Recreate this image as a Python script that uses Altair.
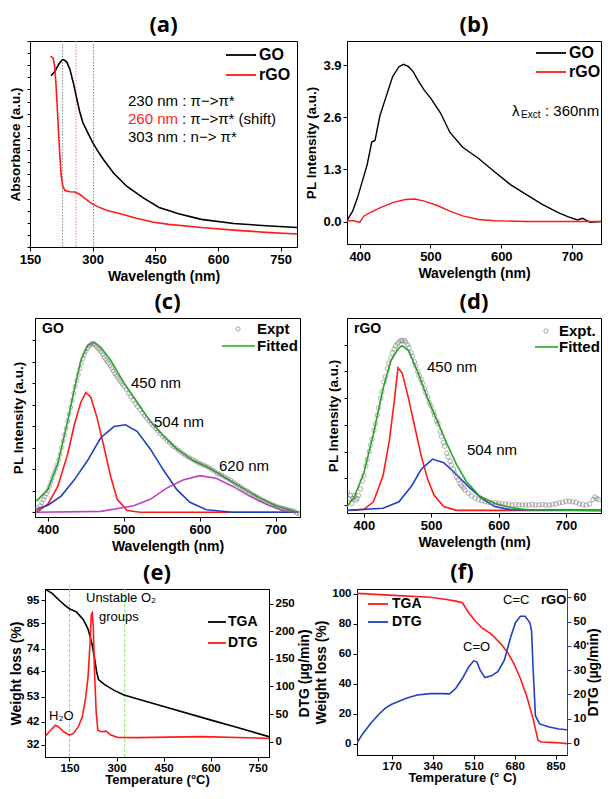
import altair as alt
import pandas as pd

FONT = "Liberation Sans"
TFONT = "Open Sans"

# ---------------- (a) UV-vis ----------------
a_go_x = [200.5, 210.6, 218.3, 226.1, 230, 237.7, 245.5, 253.3, 261, 268.8, 276.6, 288.2, 299.8, 311.5,
          327, 350.3, 381.4, 420.2, 459, 505.6, 560, 637.6, 715.2, 789]
a_go_y = [0.831, 0.855, 0.886, 0.907, 0.910, 0.899, 0.863, 0.800, 0.729, 0.658, 0.603, 0.555, 0.508, 0.468,
          0.421, 0.358, 0.295, 0.240, 0.192, 0.161, 0.134, 0.114, 0.103, 0.095]
a_rgo_x = [198.9, 205.1, 209, 212.1, 215.2, 218.3, 221.4, 224.5, 228.4, 233.9, 245.5, 257.1, 268.8, 280.4,
           296, 311.5, 334.8, 365.8, 404.7, 443.5, 482.3, 560, 637.6, 715.2, 789]
a_rgo_y = [0.926, 0.918, 0.879, 0.792, 0.681, 0.555, 0.445, 0.350, 0.295, 0.274, 0.268, 0.267, 0.256, 0.237,
           0.213, 0.196, 0.177, 0.161, 0.140, 0.121, 0.110, 0.095, 0.082, 0.071, 0.063]
a_marks = [228, 260, 302]
a_xticks = [150, 300, 450, 600, 750]

# ---------------- (b) PL ----------------
b_go_x = [382, 390, 396.8, 403.6, 410.4, 417, 421.6, 428.4, 437.4, 446.4, 455.4, 462, 469, 475.7, 482.4,
          491.4, 500.5, 514, 527.5, 545.5, 568, 590.5, 613, 635.6, 658, 680.6, 694, 707.7, 715, 725.7, 741.4]
b_go_y = [0.02, 0.26, 0.59, 1.0, 1.41, 1.98, 2.02, 2.63, 3.12, 3.61, 3.86, 3.92, 3.86, 3.73, 3.52,
          3.27, 3.07, 2.71, 2.22, 1.85, 1.57, 1.24, 0.92, 0.67, 0.43, 0.22, 0.12, 0.04, 0.08, -0.02, 0.0]
b_rgo_x = [382, 392, 400, 405.9, 414.9, 428.4, 446.4, 464.4, 477.9, 491.4, 509.5, 527.5, 545.5, 568,
           590.5, 635.6, 741.4]
b_rgo_y = [0.02, 0.02, -0.02, 0.14, 0.22, 0.34, 0.47, 0.55, 0.56, 0.51, 0.40, 0.26, 0.14, 0.05,
           0.02, 0.0, 0.0]
b_xticks = [400, 500, 600, 700]
b_yticks = [0.0, 1.3, 2.6, 3.9]

# ---------------- (c) GO deconvolution ----------------
c_red_x = [384.8, 400, 413, 426, 434.8, 443.5, 450, 456.5, 465, 474, 482.6, 491.3, 504.3, 521.7, 730.4]
c_red_y = [0, 0.19, 0.60, 1.35, 2.03, 2.56, 2.78, 2.67, 2.18, 1.50, 0.83, 0.30, 0.04, 0, 0]
c_blue_x = [384.8, 400, 417.4, 434.8, 452.2, 469.6, 487, 502.2, 517.4, 534.8, 552.2, 569.6, 587, 608.7, 643.5, 730.4]
c_blue_y = [0.075, 0.165, 0.376, 0.752, 1.2, 1.73, 1.99, 2.03, 1.88, 1.47, 0.98, 0.53, 0.23, 0.06, 0, 0]
c_mag_x = [384.8, 469.6, 513, 534.8, 556.5, 578, 600, 621.7, 643.5, 665, 687, 708.7, 730.4]
c_mag_y = [0, 0.02, 0.15, 0.30, 0.56, 0.75, 0.85, 0.79, 0.60, 0.38, 0.19, 0.04, 0]
c_fit_x = [384.8, 400, 413, 426, 434.8, 443.5, 452.2, 460.9, 469.6, 482.6, 500, 517.4, 534.8, 552.2,
           569.6, 591.3, 613, 634.8, 656.5, 678, 700, 721.7, 730.4]
c_fit_y = [0.26, 0.53, 1.13, 2.11, 2.86, 3.53, 3.87, 3.95, 3.83, 3.53, 3.01, 2.56, 2.11, 1.77,
           1.47, 1.20, 1.02, 0.79, 0.56, 0.34, 0.15, 0.04, 0]
c_exp_x = [384, 386, 388, 390, 392, 394, 396, 398, 400, 402, 404, 406, 408, 410, 412, 414, 416, 418, 420,
           422, 424, 426, 428, 430, 432, 434, 436, 438, 440, 442, 444, 446, 448, 450, 452, 454, 456, 458,
           460, 462, 464, 466, 468, 470, 472, 474, 476, 478, 480, 482, 484, 486, 488, 490, 492, 494, 496,
           498, 500, 503, 506, 509, 512, 515, 518, 521, 524, 527, 530, 533, 536, 539, 542, 545, 548, 551,
           554, 557, 560, 563, 566, 569, 572, 575, 578, 581, 584, 587, 590, 593, 596, 599, 602, 605, 608,
           611, 614, 617, 620, 623, 626, 629, 632, 635, 638, 641, 644, 647, 650, 653, 656, 659, 662, 665,
           668, 671, 674, 677, 680, 683, 686, 689, 692, 695, 698, 701, 704, 707, 710, 713, 716, 719, 722,
           725, 728, 731]
c_exp_y = [0.02, 0.1, 0.05, 0.15, 0.22, 0.3, 0.36, 0.43, 0.5, 0.6, 0.7, 0.8, 0.9, 1.0, 1.1, 1.22, 1.35,
           1.5, 1.65, 1.8, 1.95, 2.12, 2.28, 2.44, 2.6, 2.76, 2.92, 3.06, 3.2, 3.33, 3.45, 3.56, 3.66, 3.74,
           3.8, 3.86, 3.89, 3.92, 3.9, 3.88, 3.85, 3.8, 3.76, 3.72, 3.66, 3.6, 3.55, 3.5, 3.46, 3.4, 3.35,
           3.28, 3.22, 3.17, 3.12, 3.07, 3.02, 2.97, 2.92, 2.85, 2.76, 2.68, 2.6, 2.52, 2.45, 2.38, 2.3,
           2.24, 2.18, 2.12, 2.06, 2.0, 1.94, 1.88, 1.82, 1.76, 1.72, 1.66, 1.62, 1.56, 1.52, 1.48, 1.44,
           1.4, 1.36, 1.32, 1.29, 1.26, 1.23, 1.2, 1.17, 1.14, 1.12, 1.1, 1.07, 1.05, 1.02, 0.98, 0.95,
           0.9, 0.88, 0.86, 0.83, 0.8, 0.77, 0.74, 0.7, 0.66, 0.63, 0.6, 0.56, 0.52, 0.5, 0.46, 0.43, 0.4,
           0.37, 0.34, 0.31, 0.28, 0.26, 0.23, 0.2, 0.18, 0.16, 0.14, 0.12, 0.1, 0.09, 0.08, 0.06, 0.05,
           0.04, 0.02, -0.02, -0.03]

# ---------------- (d) rGO deconvolution ----------------
d_red_x = [381, 400, 414.2, 428.4, 437.9, 445, 450.7, 456.9, 466.4, 475.8, 485.3, 494.8, 504.3, 518.5, 537.4, 752]
d_red_y = [0, 0.02, 0.16, 0.64, 1.31, 2.03, 2.67, 2.57, 2.09, 1.55, 1.01, 0.58, 0.28, 0.07, 0, 0]
d_blue_x = [375, 428.4, 452.1, 471.1, 485.3, 501.9, 518.5, 537.4, 556.4, 575.4, 594.3, 618, 752]
d_blue_y = [0, 0.04, 0.16, 0.46, 0.77, 0.96, 0.89, 0.67, 0.43, 0.22, 0.07, 0.01, 0]
d_fit_x = [375, 385.8, 400, 414.2, 428.4, 440.3, 452.1, 456.9, 466.4, 480.6, 494.8, 509, 523.2, 537.4,
           551.7, 570.6, 594.3, 618, 641.7, 752]
d_fit_y = [0.07, 0.25, 0.70, 1.43, 2.27, 2.81, 3.04, 3.08, 2.99, 2.57, 2.09, 1.67, 1.25, 0.86,
           0.55, 0.28, 0.13, 0.05, 0.01, 0]
d_exp_x = [376, 378, 380, 382, 384, 386, 388, 390, 392, 395, 398, 400, 403, 405, 408, 410, 412, 415, 417,
           420, 422, 425, 427, 430, 432, 435, 437, 440, 442, 445, 447, 450, 452, 455, 457, 460, 462, 465,
           467, 470, 472, 475, 477, 480, 482, 485, 487, 490, 492, 495, 497, 500, 503, 505, 508, 510, 513,
           515, 518, 520, 523, 525, 528, 530, 533, 535, 538, 540, 543, 545, 548, 550, 555, 560, 565, 570,
           575, 580, 585, 590, 595, 600, 605, 610, 615, 620, 625, 630, 635, 640, 645, 650, 655, 660, 665,
           670, 675, 680, 685, 690, 695, 700, 705, 710, 715, 720, 725, 730, 735, 740, 743, 746, 749]
d_exp_y = [0.34, 0.22, 0.28, 0.13, 0.22, 0.28, 0.19, 0.22, 0.28, 0.40, 0.55, 0.65, 0.83, 0.95, 1.1, 1.22,
           1.33, 1.5, 1.62, 1.78, 1.92, 2.1, 2.22, 2.4, 2.5, 2.65, 2.75, 2.85, 2.95, 3.02, 3.08, 3.12, 3.15,
           3.18, 3.17, 3.18, 3.15, 3.1, 3.05, 2.95, 2.88, 2.78, 2.7, 2.6, 2.52, 2.45, 2.38, 2.28, 2.2, 2.12,
           2.02, 1.95, 1.85, 1.78, 1.68, 1.62, 1.48, 1.38, 1.27, 1.2, 1.07, 1.0, 0.92, 0.85, 0.77, 0.7, 0.62,
           0.57, 0.5, 0.46, 0.42, 0.38, 0.32, 0.27, 0.23, 0.2, 0.18, 0.16, 0.15, 0.14, 0.14, 0.13, 0.12, 0.12,
           0.11, 0.1, 0.11, 0.1, 0.1, 0.1, 0.1, 0.11, 0.1, 0.1, 0.11, 0.1, 0.1, 0.11, 0.12, 0.14, 0.15, 0.17,
           0.17, 0.16, 0.15, 0.12, 0.11, 0.1, 0.12, 0.2, 0.25, 0.22, 0.2]

# ---------------- (e) GO TGA / DTG ----------------
e_tga_x = [72, 94.9, 115.7, 136.5, 150, 172.9, 193.7, 209.3, 221.7, 230, 236.3, 242.5, 261.2, 292.4,
           323.6, 417.2, 604.3, 677, 786]
e_tga_y = [100, 98.1, 95.3, 92.7, 91.4, 89.9, 86.7, 82.5, 76.1, 69.7, 64, 60.4, 58.3, 55.7,
           53.7, 50, 42.6, 39.8, 35.5]
e_dtg_x = [72, 89.7, 105.3, 115.7, 131.3, 150, 162.5, 178, 190.5, 201, 209.3, 215.5, 219.6, 222.8, 225.9,
           230, 235.2, 240.4, 250.8, 266.4, 282, 302.8, 365.2, 573, 786]
e_dtg_y = [8.9, 20.7, 29.6, 26.6, 17.8, 11.8, 14.8, 26.6, 44.4, 76.9, 118, 177.5, 230.8, 233.7, 207,
           124, 53.3, 20.7, 17.8, 18.9, 11.8, 7.7, 7.1, 8.9, 5.9]
e_marks = [150, 326]
e_xticks = [150, 300, 450, 600, 750]
e_lticks = [32, 42, 53, 64, 74, 85, 95]
e_rticks = [0, 50, 100, 150, 200, 250]

# ---------------- (f) rGO TGA / DTG ----------------
f_tga_x = [26, 196.7, 330, 396.7, 436.7, 463.3, 490, 516.7, 543.3, 583.3, 623.3, 650, 676.7, 703.3, 730,
           756.7, 776.7, 790, 850, 896.7]
f_tga_y = [100.4, 98.9, 97.8, 96.3, 95.2, 94.1, 87.3, 81.9, 77.5, 73.1, 66.6, 61.1, 53.5, 43.7, 31.7,
           16.4, 2.2, 1.1, 0.7, 0]
f_dtg_x = [26, 50, 83.3, 116.7, 143.3, 170, 210, 236.7, 276.7, 330, 383.3, 410, 436.7, 463.3, 490, 510,
           523.3, 536.7, 556.7, 583.3, 610, 636.7, 663.3, 683.3, 703.3, 723.3, 743.3, 750, 756.7, 766,
           783.3, 823.3, 863.3, 896.7]
f_dtg_y = [0, 3.8, 8.1, 11.8, 14.3, 15.9, 17.6, 18.6, 19.7, 20.3, 20.3, 20.2, 22.6, 26.6, 31.4, 33.8,
           33.4, 30, 26.9, 27.6, 29.3, 34, 43.5, 49.5, 52.2, 52.2, 49.5, 46.2, 30, 11.2, 7.8, 6.5, 5.7, 5.4]
f_xticks = [170, 340, 510, 680, 850]
f_lticks = [0, 20, 40, 60, 80, 100]
f_rticks = [0, 10, 20, 30, 40, 50, 60]

RED = "#ff1a1a"
BLUE = "#2040c0"
MAG = "#c040c0"
GREEN = "#22aa22"
GRAY = "#707070"

ONE = pd.DataFrame({"k": [0]})


def df(xs, ys):
    return pd.DataFrame({"x": xs, "y": ys})


def txt(s, x, y, size=15, color="black", weight="normal", align="left"):
    return alt.Chart(pd.DataFrame({"t": [s]})).mark_text(
        align=align, baseline="middle", fontSize=size, fontWeight=weight, color=color, font=FONT
    ).encode(x=alt.value(x), y=alt.value(y), text="t:N")


def seg(x1, x2, y, color, width=1.8):
    return alt.Chart(ONE).mark_rule(color=color, strokeWidth=width).encode(
        x=alt.value(x1), x2=alt.value(x2), y=alt.value(y))


def dot(x, y):
    return alt.Chart(ONE).mark_point(shape="circle", filled=False, color=GRAY, size=18, strokeWidth=0.9).encode(
        x=alt.value(x), y=alt.value(y))


def curve(data, xe, ye, color, w=1.6):
    return alt.Chart(data).mark_line(color=color, strokeWidth=w, clip=True).encode(x=xe, y=ye)


def spacer(w):
    return alt.Chart(ONE).mark_point(opacity=0, size=1).encode(x=alt.value(1), y=alt.value(1)).properties(
        width=w, height=2, view=alt.ViewBackground(strokeOpacity=0))


def title(s):
    return alt.TitleParams(s, font=TFONT, fontSize=22, fontWeight="bold", anchor="middle", offset=4, color="black")


def xax(vals, name, size=13, tsize=14, lpad=2, tpad=3):
    return alt.Axis(values=vals, title=name, format="d", labelFontSize=size, titleFontSize=tsize,
                    titlePadding=tpad, labelPadding=lpad)


# ---------- panel (a)
WA, HA = 267, 206
xa = alt.X("x:Q", scale=alt.Scale(domain=[150, 789], nice=False, zero=False), axis=xax(a_xticks, "Wavelength (nm)"))
ya = alt.Y("y:Q", scale=alt.Scale(domain=[0, 1], nice=False, zero=False),
           axis=alt.Axis(values=[i / 17 for i in range(18)], labels=False, title="Absorbance (a.u.)",
                         titleFontSize=13.5, titlePadding=4, tickSize=3))
pa = alt.layer(
    alt.Chart(pd.DataFrame({"x": [a_marks[0]]})).mark_rule(color="#888888", strokeDash=[1.5, 1.5], strokeWidth=1).encode(x=xa),
    alt.Chart(pd.DataFrame({"x": [a_marks[1]]})).mark_rule(color="#ff7090", strokeDash=[1.5, 1.5], strokeWidth=1).encode(x=xa),
    alt.Chart(pd.DataFrame({"x": [a_marks[2]]})).mark_rule(color="#888888", strokeDash=[1.5, 1.5], strokeWidth=1).encode(x=xa),
    curve(df(a_go_x, a_go_y), xa, ya, "black"),
    curve(df(a_rgo_x, a_rgo_y), xa, ya, RED),
    seg(WA - 71, WA - 41, 14, "black"), txt("GO", WA - 38, 14, 16, weight="bold"),
    seg(WA - 71, WA - 41, 34, RED), txt("rGO", WA - 38, 34, 16, weight="bold"),
    txt("230 nm : π−>π*", 98, 60),
    txt("260 nm", 98, 78, color=RED), txt(": π−>π* (shift)", 152, 78),
    txt("303 nm : n−> π*", 98, 96),
).properties(width=WA, height=HA, title=title("(a)"))

# ---------- panel (b)
WB, HB = 254, 203
xb = alt.X("x:Q", scale=alt.Scale(domain=[382, 741], nice=False, zero=False), axis=xax(b_xticks, "Wavelength (nm)"))
yb = alt.Y("y:Q", scale=alt.Scale(domain=[-0.56, 4.5], nice=False, zero=False),
           axis=alt.Axis(values=b_yticks, format=".1f", title="PL Intensity (a.u.)", titleFontSize=13.5,
                         titlePadding=4, labelFontSize=13))
pb = alt.layer(
    curve(df(b_go_x, b_go_y), xb, yb, "black", 1.4),
    curve(df(b_rgo_x, b_rgo_y), xb, yb, RED, 1.4),
    seg(WB - 65, WB - 35, 12, "black"), txt("GO", WB - 32, 12, 16, weight="bold"),
    seg(WB - 65, WB - 35, 31, RED), txt("rGO", WB - 32, 31, 16, weight="bold"),
    txt("λ", WB - 89, 70, 15), txt("Exct", WB - 80, 74, 10), txt(": 360nm", WB - 56, 70, 15),
).properties(width=WB, height=HB, title=title("(b)"))

# ---------- panel (c)
WC, HC = 265, 199
xc = alt.X("x:Q", scale=alt.Scale(domain=[383, 732], nice=False, zero=False), axis=xax(b_xticks, "Wavelength (nm)"))
yc = alt.Y("y:Q", scale=alt.Scale(domain=[-0.11, 4.51], nice=False, zero=False),
           axis=alt.Axis(values=[i * 0.5 for i in range(9)], labels=False, title="PL Intensity (a.u.)",
                         titleFontSize=13.5, titlePadding=6, tickSize=3))
pc = alt.layer(
    curve(df(c_red_x, c_red_y), xc, yc, RED),
    curve(df(c_blue_x, c_blue_y), xc, yc, BLUE),
    curve(df(c_mag_x, c_mag_y), xc, yc, MAG),
    curve(df(c_fit_x, c_fit_y), xc, yc, GREEN),
    alt.Chart(df(c_exp_x, c_exp_y)).mark_point(shape="circle", filled=False, color=GRAY, size=16,
                                               strokeWidth=0.8, clip=True).encode(x=xc, y=yc),
    txt("GO", 7, 11, 14, weight="bold"),
    txt("450 nm", 96, 65), txt("504 nm", 119, 104), txt("620 nm", 184, 148),
    dot(WC - 62, 11), txt("Expt", WC - 43, 11, 15, weight="bold"),
    seg(WC - 78, WC - 45, 28, GREEN, 1.6), txt("Fitted", WC - 43, 28, 15, weight="bold"),
).properties(width=WC, height=HC, title=title("(c)"))

# ---------- panel (d)
WD, HD = 254, 195
xd = alt.X("x:Q", scale=alt.Scale(domain=[375, 752], nice=False, zero=False), axis=xax(b_xticks, "Wavelength (nm)"))
yd = alt.Y("y:Q", scale=alt.Scale(domain=[-0.05, 3.6], nice=False, zero=False),
           axis=alt.Axis(values=[0.1 + i * 0.5 for i in range(7)], labels=False, title="PL Intensity (a.u.)",
                         titleFontSize=13.5, titlePadding=3, tickSize=3))
pd_ = alt.layer(
    curve(df(d_red_x, d_red_y), xd, yd, RED),
    curve(df(d_blue_x, d_blue_y), xd, yd, BLUE),
    curve(df(d_fit_x, d_fit_y), xd, yd, GREEN),
    alt.Chart(df(d_exp_x, d_exp_y)).mark_point(shape="circle", filled=False, color=GRAY, size=20,
                                               strokeWidth=0.8, clip=True).encode(x=xd, y=yd),
    txt("rGO", 7, 11, 14, weight="bold"),
    txt("450 nm", 80, 49), txt("504 nm", 120, 132),
    dot(WD - 55, 13), txt("Expt.", WD - 42, 13, 15, weight="bold"),
    seg(WD - 66, WD - 43, 29, GREEN, 1.6), txt("Fitted", WD - 42, 29, 15, weight="bold"),
).properties(width=WD, height=HD, title=title("(d)"))

# ---------- panel (e)
WE, HE = 224, 168
xe = alt.X("x:Q", scale=alt.Scale(domain=[72, 786], nice=False, zero=False),
           axis=xax(e_xticks, "Temperature (°C)", 11.5, 13, 1, 0))
yel = alt.Y("y:Q", scale=alt.Scale(domain=[26.6, 100], nice=False, zero=False),
            axis=alt.Axis(values=e_lticks, title="Weight loss (%)", titleFontSize=14, labelFontSize=11.5,
                          titlePadding=3, orient="left"))
yer = alt.Y("y:Q", scale=alt.Scale(domain=[-28, 277], nice=False, zero=False),
            axis=alt.Axis(values=e_rticks, title="DTG (µg/min)", titleFontSize=14, labelFontSize=11.5,
                          titlePadding=3, orient="right", titleAngle=270, titleBaseline="top"))
e_left = alt.layer(
    alt.Chart(pd.DataFrame({"x": e_marks})).mark_rule(color="#77ee55", strokeDash=[3, 2], strokeWidth=1).encode(x=xe),
    curve(df(e_tga_x, e_tga_y), xe, yel, "black"),
    seg(WE - 61, WE - 43, 33, "black"), txt("TGA", WE - 41, 33, 14, weight="bold"),
    seg(WE - 61, WE - 43, 54, RED), txt("DTG", WE - 41, 54, 14, weight="bold"),
    txt("Unstable O₂", 41, 9, 13), txt("groups", 54, 28, 13), txt("H₂O", 4, 127, 13),
)
e_right = curve(df(e_dtg_x, e_dtg_y), xe, yer, RED)
pe = alt.layer(e_left, e_right).resolve_scale(y="independent").properties(width=WE, height=HE, title=title("(e)"))

# ---------- panel (f)
WF, HF = 210, 166
xf = alt.X("x:Q", scale=alt.Scale(domain=[26, 897], nice=False, zero=False),
           axis=xax(f_xticks, "Temperature (° C)", 11.5, 13, 1, 0))
yfl = alt.Y("y:Q", scale=alt.Scale(domain=[-7.6, 103.3], nice=False, zero=False),
            axis=alt.Axis(values=f_lticks, title="Weight loss (%)", titleFontSize=14, labelFontSize=11.5,
                          titlePadding=3, orient="left"))
yfr = alt.Y("y:Q", scale=alt.Scale(domain=[-5, 63.4], nice=False, zero=False),
            axis=alt.Axis(values=f_rticks, title="DTG (µg/min)", titleFontSize=14, labelFontSize=11.5,
                          titlePadding=1, orient="right", titleAngle=270, titleBaseline="top",
                          domainColor=BLUE, tickColor=BLUE))
f_left = alt.layer(
    curve(df(f_tga_x, f_tga_y), xf, yfl, RED),
    seg(11, 31, 15, RED), txt("TGA", 35, 15, 14, weight="bold"),
    seg(11, 31, 33, BLUE), txt("DTG", 35, 33, 14, weight="bold"),
    txt("C=O", 106, 58, 13), txt("C=C", 146, 11, 13), txt("rGO", 184, 11, 13, weight="bold"),
)
f_right = curve(df(f_dtg_x, f_dtg_y), xf, yfr, BLUE)
pf = alt.layer(f_left, f_right).resolve_scale(y="independent").properties(width=WF, height=HF, title=title("(f)"))

row1 = alt.hconcat(pa, pb, spacing=50, bounds="flush")
row2 = alt.hconcat(spacer(5), alt.hconcat(pc, pd_, spacing=47, bounds="flush"), spacing=0, bounds="flush")
row3 = alt.hconcat(spacer(15), alt.hconcat(pe, pf, spacing=88, bounds="flush"), spacing=0, bounds="flush")

chart = alt.vconcat(row1, row2, row3, spacing=6).properties(
    padding={"top": 5, "left": 0, "right": 0, "bottom": 0}
).configure_view(
    stroke="black", strokeWidth=1
).configure_axis(
    labelFont=FONT, labelFontWeight="bold", labelColor="black", titleFont=FONT, titleFontWeight="bold",
    titleColor="black", domainColor="black", tickColor="black", tickSize=4, grid=False,
    labelFlush=False, labelOverlap=False, labelPadding=2
)

chart.save("out.html", embed_options={"renderer": "svg", "actions": False})
